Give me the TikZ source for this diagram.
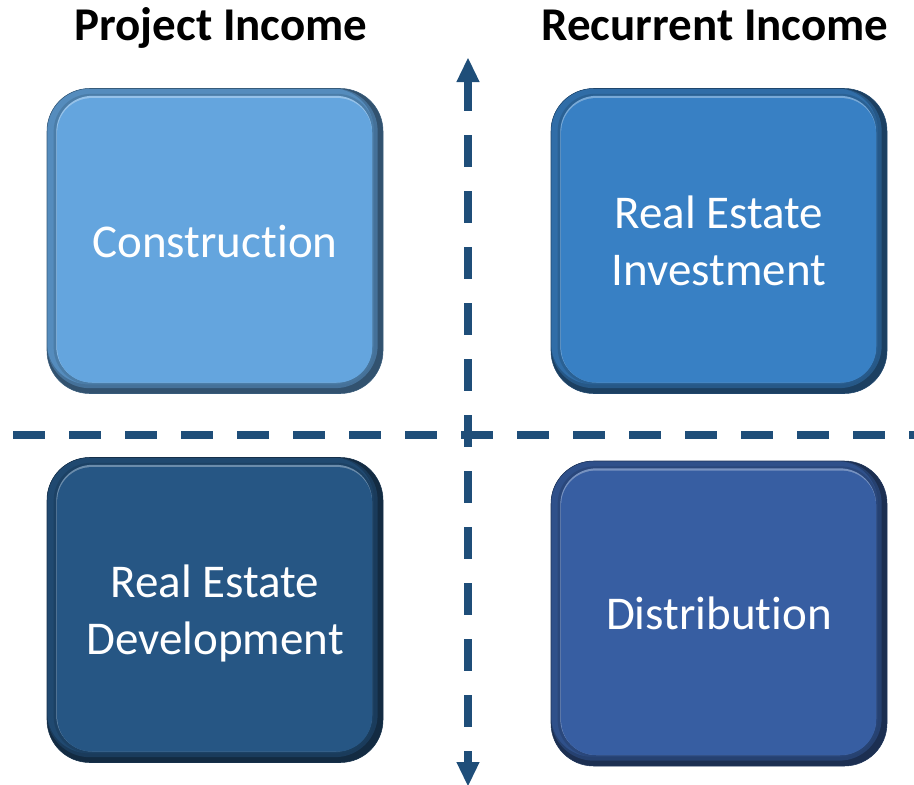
\documentclass[tikz,border=0pt]{standalone}
\usepackage{fontspec}
\setmainfont{Carlito}[Ligatures=NoCommon]
\usetikzlibrary{arrows.meta}

\definecolor{cConstr}{RGB}{100,165,222}
\definecolor{cInvest}{RGB}{56,128,196}
\definecolor{cDevel}{RGB}{38,86,132}
\definecolor{cDistr}{RGB}{55,94,162}
\definecolor{axiscol}{RGB}{31,78,121}

% rounded rectangle inset from the box edges: left, top, right, bottom
\newcommand\bevelinset[4]{%
  ([shift={(#1,-#2)}]path picture bounding box.north west) rectangle
  ([shift={(-#3,#4)}]path picture bounding box.south east)}

\tikzset{
  bevelbox/.style={
    rectangle, rounded corners=32pt,
    minimum width=252pt, minimum height=228.75pt, inner sep=0pt,
    fill=#1!50!black, draw=#1!55!black, line width=0.4pt,
    text=white, align=center, text depth=0pt,
    font=\fontsize{35.25pt}{42.75pt}\selectfont,
    path picture={
      % lighter rim along the top and left
      \fill[#1!82!black, opacity=.6, rounded corners=32pt]
        \bevelinset{0pt}{0pt}{4pt}{4pt};
      \fill[#1!85!black, rounded corners=31pt]
        \bevelinset{0pt}{0pt}{7pt}{7pt};
      % soft transition into the darker lower right rim
      \fill[#1!72!black, opacity=.7, rounded corners=28pt]
        \bevelinset{5pt}{4pt}{6.5pt}{6.5pt};
      % bright edge along the top of the face
      \fill[#1!68!white, rounded corners=27pt]
        \bevelinset{7pt}{5.5pt}{8.25pt}{8.25pt};
      % flat face
      \fill[#1, rounded corners=26pt]
        \bevelinset{7.6pt}{7.2pt}{8.25pt}{8.25pt};
    }
  },
  heading/.style={anchor=base, text=black,
    font=\fontsize{35.25pt}{42pt}\selectfont\bfseries},
  axisline/.style={draw=axiscol, line width=6pt,
    dash pattern=on 24pt off 18pt},
  axishead/.tip={Triangle[length=18pt, width=17.5pt, line width=0pt]}
}

\begin{document}
\begin{tikzpicture}[x=0.75pt, y=-0.75pt]
  \useasboundingbox (0,0) rectangle (914,785);

  % column headings
  \node[heading] (hproj) at (221,40) {Project Income};
  \node[heading] (hrec)  at (715,40) {Recurrent Income};

  % the four business areas
  \node[bevelbox=cConstr] (constr) at (215,241)   {Construction};
  \node[bevelbox=cInvest] (invest) at (719,241)   {Real Estate\\Investment};
  \node[bevelbox=cDevel]  (devel)  at (215,610)   {Real Estate\\Development};
  \node[bevelbox=cDistr]  (distr)  at (719,613.5) {Distribution};

  % dividing axes
  \coordinate (hleft)  at (13,435);
  \coordinate (hright) at (925,435);
  \coordinate (vtop)   at (468,58);
  \coordinate (vbot)   at (468,786);

  \draw[axisline] (hleft) -- (hright);
  \draw[axisline, dash phase=2.25pt, axishead-axishead] (vtop) -- (vbot);
\end{tikzpicture}
\end{document}
